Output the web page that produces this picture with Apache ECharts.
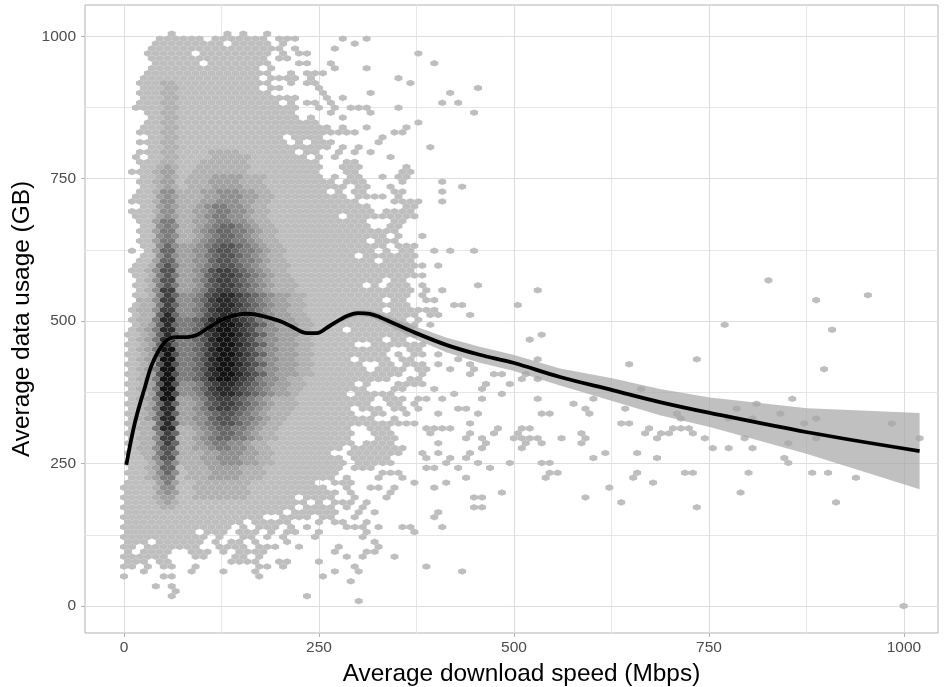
<!DOCTYPE html>
<html>
<head>
<meta charset="utf-8">
<script src="https://cdn.jsdelivr.net/npm/echarts@6/dist/echarts.min.js"></script>
<style>
  html, body { margin: 0; padding: 0; background: #fff; }
  #chart { width: 948px; height: 687px; }
</style>
</head>
<body>
<div id="chart"></div>
<script>
// hex bin size, Mbps across and GB between rows
const binSpeed = 10.2;
const binUsage = 8.66;

// count level of each hex, from lightest (0) to darkest (9)
const shades = ["#bebebe", "#b1b1b1", "#a1a1a1", "#8f8f8f", "#7c7c7c", "#686868", "#545454", "#404040", "#2a2a2a", "#141414"];

// hex rows from the top (row 116) down to row 0.
// "col:levels" tokens, no col means column 0, "." is an empty bin
const hexRows = [
  "6:0 13:0 15:0 18:0", // 116
  "4:000000 11:0000000 19:000 27:0 30:0",
  "4:000000000 14:00000 20:0 29:0",
  "3:0000000000000000 19:0 21:0 26:0",
  "3:000000 10:000000000 20:0 22:00 37:0",
  "3:000000000000000 19:00",
  "4:000000 11:00000000 22:00 26:0 39:0",
  "3:00000000000000 18:0 26:0 30:0",
  "3:0000000000000000 21:0 23:000",
  "2:000000000000000 18:0000 23:0 34:0",
  "2:00011000000000000 21:0 23:00 36:0", // 106
  "2:000110000000000 18:00 24:0 44:0",
  "2:00011000000000000 25:0 31:0 41:0",
  "2:00011000000000000 19:000 25:0 27:0",
  "2:000110000000000000 21:0 23:00 26:0 40:0 42:0",
  "1:0000110000000000000 20:00 24:0 26:0 28:000 34:0",
  "3:0011000000000000000 26:0 31:0 44:0",
  "3:0011000000000000000 23:0 27:0",
  "3:0011000000000000000000 37:0",
  "2:0001100000000000000000 24:00 27:0 30:0 35:0",
  "2:000110000000000000000000000 29:0 34:00", // 96
  "3:00110000000000000 21:0000 32:0",
  "2:0001100000000000000 22:0 24:000 32:0",
  "3:00110000000000000000000 27:0 29:0 38:0",
  "2:00011000011110000000 23:00 27:0 29:0 31:0",
  "1:0 3:00110000111110000000 24:0 26:0 33:0",
  "2:00011000111111000000000 28:00",
  "..001210011111110000 20:00000 27:000 35:0",
  ".0001220011111110000 20:00000 28:00 35:00",
  "..001210111222211100 20:00000 26:0 28:00 32:0 34:00",
  "..001220111222211100 20:0000000 28:000 35:0 40:0", // 86
  "..001210111222211100 20:00000000 29:00 33:0 42:0",
  "..001331112233322110 20:000000 27:0 29:00 34:00 40:0",
  ".0002321112233322110 20:00000000 29:0000 34:0",
  ".0001331112233322110 20:0000000000 34:000 37:0 40:0",
  "..002321123443321100 20:00000000000 35:00",
  ".0001331122344332110 20:000000000000 33:0000",
  ".0002321123443321100 20:0000000 28:000000000",
  "..002441122344332110 20:00000000000 34:00",
  "..003431123455432110 20:00000000000 33:00",
  "..002441123455443211 20:000000000000000", // 76
  "..003431123455432110 20:0000000000000 34:0 37:0",
  "..002441123455443211 20:00000000000 32:000",
  "..003532234566543211 20:0000000000000 34:000",
  ".0.02552233566544321 20:100000000000 33:0 35:00 39:0 41:0 44:0",
  "..003532234566543211 20:000000000 30:0000000",
  "..002552233566544321 20:100000000000 33:0000",
  ".0014642234566543211 20:10000000000000000 37:0 39:0",
  ".0013662234677654321 20:10000000000000000",
  ".0014642235677654321 20:10000000000000000 37:0",
  "..013662234677654321 20:1100000000000 34:00 81:0", // 66
  ".0014642235677654321 20:1100000000 31:0 33:000 37:0 44:0",
  "..013772234677654321 20:11000000000000000 38:0 40:0 52:0",
  ".0014753346788765432 20:2110000000000000 37:0 93:0",
  "..113773345788765432 20:2110000000000 34:00 38:00 87:0",
  ".0114753346788765432 20:2110000000000000 41:00 49:0",
  ".0113773345788765432 20:2110000000000 34:000 37:000",
  ".0115853346788765432 20:21100000000000000 38:00 43:0",
  ".0114884456899876433 20:2211000000000000 37:0",
  ".0125854457899876532 20:22110000000000000 38:0 75:0",
  ".0124884456899876433 20:22110000 29:00000000 89:0", // 56
  "00125854457899876532 20:22110000000000000 52:0",
  ".0124884456899876433 20:2211000000000 34:00 51:0",
  "00125854457899876532 20:221100000 31:000000 37:0",
  ".0124994456899876433 20:22110000000000 36:00",
  "00126964457899876532 20:2211000000000 34:0 36:00 39:0",
  ".0124994456899876433 20:221100000 30:0000 35:00 42:0 52:0 72:0",
  "00126964457899876532 20:2211000000 32:00 35:000 39:0 43:0 63:0",
  ".0124994456899876433 20:22110000000 32:0000 37:00 41:0 44:0 88:0",
  "00126964457899876532 20:221100000000000 37:0 43:0 46:00 50:0",
  ".0124994456899876433 20:21100000000000 36:00 50:0 52:0", // 46
  "00126963346788765432 20:211000000 30:0 34:00 36:00 45:0 48:0",
  ".0124993345788765432 20:21100000000 34:00 39:0 45:0 65:0",
  "00126963346788765432 20:21000000 29:0000 33:0 41:0 47:0",
  ".0124992234677654321 20:110000000000 33:000 37:00 40:0 45:0 52:0 59:0 84:0",
  "00125852235677654321 20:11000000000 33:00 36:0 56:0 79:0",
  ".0124882234677654321 20:110000000 30:000 34:00 37:0 42:00 58:0 63:0 77:0",
  "00125852234566543211 20:100000000 31:00 35:0 39:0 44:0 52:00 58:0 69:0 82:0",
  ".0124882233566544321 20:100000000000 34:0 70:0 76:0 79:0 87:0",
  "00115852234566543211 20:00000000000000 34:000 43:0 62:00 85:0 96:0",
  ".0114881123455443211 20:000000000 31:000 38:0000 47:0 50:00 66:0 69:000", // 36
  "00114751123455432110 20:000000000 31:000 38:0 43:0 46:0 49:0 57:0 65:0 67:00 71:0",
  ".0113771123455443211 20:000000000 32:000 43:0 45:0 49:0000 55:0 58:0 67:0 73:0 78:0 87:0 100:0",
  "00114751123443321100 20:000000000 30:0000 39:0 45:0 50:0 52:0 57:0 83:0",
  ".0113661122344332110 20:00000000 29:000000 35:0 45:0 50:0 74:0 76:0 79:0",
  "00114641112233322110 20:000000 28:0000000 37:0 39:0 43:0 60:0 64:0",
  ".0013661112233322110 20:00000000 29:00000 38:0 41:0 43:0 59:0 67:0 83:0",
  "00013531112233322110 20:00000000 29:00000 40:0 44:0 48:0 52:00 83:0",
  ".0012550111222211100 20:00000000 29:000 38:00 42:0 46:0",
  "00013530111222211100 20:0000000 32:000 53:00 64:0 70:00 78:0 86:0 88:0",
  ".0012440111222211100 20:0000000 28:0 32:0 35:0 43:0 53:0 64:0 92:0", // 26
  "00002420011111110000 20:0000 26:00 28:0 36:0 40:0 66:0",
  "00001330011111110000 20:000000 28:0 31:00 34:0 39:0 61:0",
  "00002320011111110000 20:0000000 28:0 33:0 47:0 77:0",
  "00001220011111110000 20:00 23:0000 29:0 33:0 44:00 58:0",
  "00001210000000000000 20:000 24:0 26:00 28:0 30:0 62:0 89:0",
  "00000110000000000000 20:00 23:000 26:0 28:0 30:0 44:00 72:0",
  "00000000000000000000 21:000 24:000 29:0 31:0 39:0",
  "000000000000000000 20:0000 25:00 29:0 39:0",
  "000000000000000 16:00000 24:0 26:00 30:0",
  "00000000000000 15:0 17:000 21:0 23:0 28:000 32:0 35:00 40:0", // 16
  "000000000 10:000 14:000 18:0 20:00 24:0 30:0 36:0",
  "00000000000 12:0 15:00 18:0 20:0 24:0 30:0",
  "000 4:000000 11:0 13:00 16:0 20:0 31:0",
  "00 3:0000000 12:00 14:00 17:000 22:0 27:0 32:0",
  "0 2:0000 8:000 12:0 14:000 17:0 26:0 30:00",
  "000000 9:00 14:00 17:0 28:0 30:0 34:0",
  "00 2:0 4:00 13:000 16:0 19:00 24:0",
  "00 3:0 5:00 9:0 17:00 20:0 29:0 38:0",
  "2:0 8:0 12:0 16:0 26:0 29:0 42:0",
  "0 5:00 17:0 25:0", // 6
  "28:0",
  "4:0 6:0",
  "6:0",
  "6:0 23:0",
  "29:0",
  "98:0"
];

// smooth line and its confidence band
const smoothSpeed = [3, 14, 27, 37, 53, 68, 81, 94, 110, 132, 158, 178, 200, 213, 235, 247, 264, 286, 300, 315, 328, 371, 414, 456, 499, 559, 626, 687, 751, 876, 1020];
const smoothUsage = [248, 322, 385, 428, 464, 472, 472, 476, 490, 506, 513, 509, 500, 492, 479, 479, 492, 509, 514, 513, 507, 481, 458, 441, 427, 402, 379, 358, 339, 305, 272];
const smoothLow = [240, 316, 380, 424, 461, 469, 469, 473, 487, 503, 510, 506, 497, 489, 476, 476, 488, 504, 509, 507, 500, 470, 445, 427, 413, 387, 360, 335, 314, 267, 205];
const smoothHigh = [256, 328, 390, 432, 467, 475, 475, 479, 493, 509, 516, 512, 503, 495, 482, 482, 496, 514, 519, 519, 514, 492, 471, 455, 441, 417, 400, 381, 366, 347, 339];

const speedTicks = [0, 250, 500, 750, 1000];
const speedMinor = [125, 375, 625, 875];
const usageTicks = [0, 250, 500, 750, 1000];
const usageMinor = [125, 375, 625, 875];

const hexData = [];
hexRows.forEach((line, i) => {
  const row = hexRows.length - 1 - i;
  line.split(" ").forEach((token) => {
    const parts = token.split(":");
    const start = parts.length > 1 ? Number(parts[0]) : 0;
    const levels = parts[parts.length - 1];
    for (let k = 0; k < levels.length; k++) {
      if (levels[k] === ".") continue;
      const speed = (start + k + (row % 2 ? 0.5 : 0)) * binSpeed;
      hexData.push([speed, row * binUsage, Number(levels[k])]);
    }
  });
});

const renderHex = (params, api) => {
  const x = api.value(0);
  const y = api.value(1);
  const hw = binSpeed / 2;
  const r = (binUsage * 2) / 3;
  const corners = [
    [x, y + r], [x + hw, y + r / 2], [x + hw, y - r / 2],
    [x, y - r], [x - hw, y - r / 2], [x - hw, y + r / 2]
  ];
  return {
    type: "polygon",
    shape: { points: corners.map((c) => api.coord(c)) },
    style: { fill: shades[api.value(2)] }
  };
};

const renderBand = (params, api) => {
  const upper = smoothSpeed.map((s, i) => api.coord([s, smoothHigh[i]]));
  const lower = smoothSpeed.map((s, i) => api.coord([s, smoothLow[i]])).reverse();
  return {
    type: "polygon",
    shape: { points: upper.concat(lower) },
    style: { fill: "rgba(165,165,165,0.7)" }
  };
};

const font = "'Liberation Sans', Arial, sans-serif";
const gridLine = { color: "#dedede", width: 1 };
const minorLine = { color: "#e6e6e6", width: 1 };

const mainAxis = (name, ticks, range, gap, margin, namePad) => ({
  type: "value",
  min: range[0],
  max: range[1],
  name,
  nameLocation: "middle",
  nameGap: gap,
  nameMoveOverlap: false,
  nameTextStyle: { fontFamily: font, fontSize: 24.4, color: "#000", padding: namePad },
  axisLine: { show: false, onZero: false },
  axisTick: { show: true, length: 4, lineStyle: { color: "#b3b3b3" }, customValues: ticks },
  axisLabel: { fontFamily: font, fontSize: 15.5, color: "#4d4d4d", margin, customValues: ticks, formatter: (v) => String(v) },
  splitLine: { show: true, lineStyle: gridLine }
});

const minorAxis = (ticks, range) => ({
  type: "value",
  min: range[0],
  max: range[1],
  axisLine: { show: false, onZero: false },
  axisTick: { show: false, customValues: ticks },
  axisLabel: { show: false, customValues: ticks },
  splitLine: { show: true, lineStyle: minorLine }
});

const speedRange = [-50, 1043.6];
const usageRange = [-47.4, 1055];

const chart = echarts.init(document.getElementById("chart"), null, { renderer: "canvas" });
chart.setOption({
  animation: false,
  backgroundColor: "#fff",
  grid: { left: 85, right: 10, top: 5, bottom: 54, outerBoundsMode: "none", show: true, borderColor: "#b3b3b3", borderWidth: 1, backgroundColor: "#fff" },
  xAxis: [mainAxis("Average download speed (Mbps)", speedTicks, speedRange, 29, 7, [0, 0, 0, 20]), minorAxis(speedMinor, speedRange)],
  yAxis: [mainAxis("Average data usage (GB)", usageTicks, usageRange, 51, 9, 0), minorAxis(usageMinor, usageRange)],
  series: [
    {
      type: "custom",
      renderItem: renderHex,
      data: hexData,
      encode: { x: 0, y: 1 },
      progressive: 0,
      silent: true,
      z: 2
    },
    {
      type: "custom",
      renderItem: renderBand,
      data: [smoothSpeed.length],
      silent: true,
      z: 3
    },
    {
      type: "line",
      data: smoothSpeed.map((s, i) => [s, smoothUsage[i]]),
      smooth: 0.35,
      showSymbol: false,
      lineStyle: { color: "#000", width: 3.8 },
      silent: true,
      z: 4
    }
  ]
});
</script>
</body>
</html>
